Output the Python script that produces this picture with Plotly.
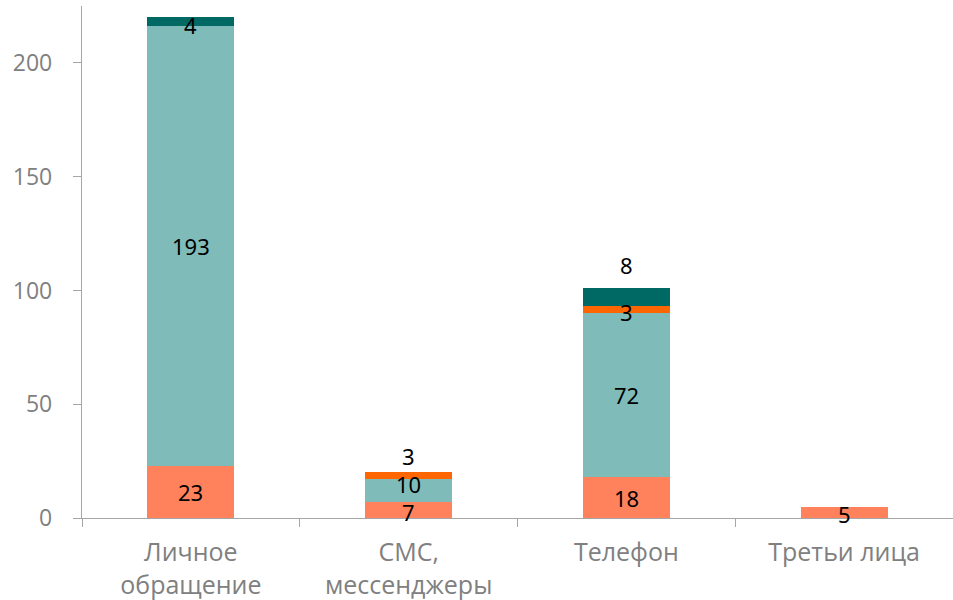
import plotly.graph_objects as go

categories = ["Личное<br>обращение", "СМС,<br>мессенджеры", "Телефон", "Третьи лица"]
series1 = [23, 7, 18, 5]
series2 = [193, 10, 72, 0]
series3 = [0, 3, 3, 0]
series4 = [4, 0, 8, 0]

series = [series1, series2, series3, series4]
colors = ["#FF825C", "#7FBBB9", "#FF6600", "#006964"]
# label vertical nudges (px) per series/category
label_shift = [
    [0, -2, 0, -2],
    [0, 7, 0, 0],
    [0, 20, -2, 0],
    [-3, 0, 32, 0],
]

fig = go.Figure()
for i, vals in enumerate(series):
    fig.add_trace(go.Bar(
        x=categories, y=vals, marker=dict(color=colors[i], line=dict(width=0)),
        showlegend=False, hoverinfo="skip",
    ))

annotations = []
for j, cat in enumerate(categories):
    base = 0
    for i, vals in enumerate(series):
        v = vals[j]
        if v > 0:
            annotations.append(dict(
                x=cat, y=base + v / 2, xref="x", yref="y", text=str(v),
                showarrow=False, yshift=label_shift[i][j],
                font=dict(family="Noto Sans", size=22, color="#000000"),
            ))
        base += v

fig.update_layout(
    barmode="stack",
    bargap=0.6,
    width=953, height=600,
    margin=dict(l=82, r=0, t=6, b=82),
    plot_bgcolor="white", paper_bgcolor="white",
    annotations=annotations,
    xaxis=dict(
        automargin=False,
        showline=True, linecolor="#A6A6A6", linewidth=1.3,
        ticks="outside", tickson="boundaries", ticklen=8, tickcolor="#A6A6A6",
        tickfont=dict(family="Open Sans", size=25, color="#808080"),
        ticklabelstandoff=12,
        showgrid=False,
    ),
    yaxis=dict(
        automargin=False,
        range=[0, 225], tickvals=[0, 50, 100, 150, 200],
        showline=True, linecolor="#A6A6A6", linewidth=1.3,
        ticks="outside", ticklen=8, tickcolor="#A6A6A6",
        tickfont=dict(family="Open Sans", size=23, color="#808080"),
        ticklabelstandoff=16,
        showgrid=False, zeroline=False,
    ),
)

fig.write_html("out.html", config={"displayModeBar": False},
               post_script="document.body.style.margin='0';")
